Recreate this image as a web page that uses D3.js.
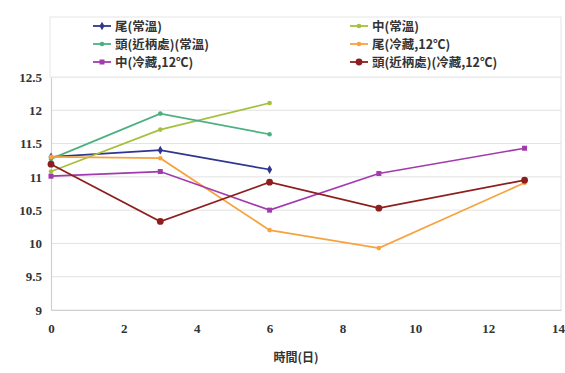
<!DOCTYPE html>
<html>
<head>
<meta charset="utf-8">
<script src="https://cdn.jsdelivr.net/npm/d3@7"></script>
<style>
  html, body { margin: 0; padding: 0; background: #fff; }
  svg { display: block; }
  .tick text { font-family: 'Liberation Serif', 'DejaVu Serif', serif !important; }
</style>
</head>
<body>
<script>
// Storage days on the x axis
const daysRoom = [0, 3, 6];
const daysCold = [0, 3, 6, 9, 13];

// Series names (legend order)
const seriesNames = [
  "尾(常溫)", "中(常溫)",
  "頭(近柄處)(常溫)", "尾(冷藏,12℃)",
  "中(冷藏,12℃)", "頭(近柄處)(冷藏,12℃)"
];

// Measured values per series
const tailRoom = [11.30, 11.40, 11.11];
const midRoom = [11.08, 11.71, 12.11];
const headRoom = [11.27, 11.95, 11.64];
const tailCold = [11.30, 11.28, 10.20, 9.93, 10.91];
const midCold = [11.01, 11.08, 10.50, 11.05, 11.43];
const headCold = [11.19, 10.33, 10.92, 10.53, 10.95];

// Axis ticks
const xTicks = [0, 2, 4, 6, 8, 10, 12, 14];
const yTicks = [9, 9.5, 10, 10.5, 11, 11.5, 12, 12.5];

const colors = ["#2F3590", "#A4C03C", "#4BB07F", "#F6A33F", "#A23AAE", "#8E1E1E"];

const series = [
  { name: seriesNames[0], x: daysRoom, y: tailRoom, color: colors[0], shape: "diamond" },
  { name: seriesNames[1], x: daysRoom, y: midRoom, color: colors[1], shape: "dot" },
  { name: seriesNames[2], x: daysRoom, y: headRoom, color: colors[2], shape: "dot" },
  { name: seriesNames[3], x: daysCold, y: tailCold, color: colors[3], shape: "dot" },
  { name: seriesNames[4], x: daysCold, y: midCold, color: colors[4], shape: "square" },
  { name: seriesNames[5], x: daysCold, y: headCold, color: colors[5], shape: "circle" }
];

const W = 565, H = 373;
const svg = d3.select("body").append("svg").attr("width", W).attr("height", H);

const x = d3.scaleLinear().domain([0, 14]).range([51, 561]);
const y = d3.scaleLinear().domain([9, 12.5]).range([310, 77]);

const cjk = "'Noto Sans CJK TC', 'Noto Sans CJK SC', sans-serif";

// Horizontal gridlines
svg.append("g")
  .selectAll("line")
  .data(yTicks)
  .join("line")
  .attr("x1", x(0)).attr("x2", x(14))
  .attr("y1", d => y(d)).attr("y2", d => y(d))
  .attr("stroke", "#e2e2e2").attr("stroke-width", 1);

// Plot frame, right side
svg.append("line").attr("x1", x(14)).attr("x2", x(14))
  .attr("y1", y(12.5)).attr("y2", y(9)).attr("stroke", "#e2e2e2");

// Axes
const xAxis = svg.append("g")
  .attr("transform", `translate(0,${y(9)})`)
  .call(d3.axisBottom(x).tickValues(xTicks).tickSize(0).tickPadding(14).tickFormat(d3.format("d")));
const yAxis = svg.append("g")
  .attr("transform", `translate(${x(0)},0)`)
  .call(d3.axisLeft(y).tickValues(yTicks).tickSize(0).tickPadding(9).tickFormat(d => d));

[xAxis, yAxis].forEach(g => {
  g.attr("font-family", null);
  g.select(".domain").attr("stroke", "#cfcfcf").attr("stroke-width", 1.2);
  g.selectAll("text").style("font-size", "13px")
    .attr("fill", "#333").style("font-weight", "bold");
});
// Last x label kept inside the canvas edge
xAxis.selectAll(".tick").filter(d => d === 14).select("text")
  .attr("text-anchor", "end").attr("dx", "3.5");

// Marker drawing
function marker(g, shape, color, cx, cy) {
  if (shape === "circle") {
    g.append("circle").attr("cx", cx).attr("cy", cy).attr("r", 3.4).attr("fill", color);
  } else if (shape === "square") {
    g.append("rect").attr("x", cx - 2.5).attr("y", cy - 2.5).attr("width", 5).attr("height", 5).attr("fill", color);
  } else if (shape === "diamond") {
    g.append("path").attr("d", d3.symbol(d3.symbolDiamond, 22)()).attr("transform", `translate(${cx},${cy})`).attr("fill", color);
  } else {
    g.append("circle").attr("cx", cx).attr("cy", cy).attr("r", 2.3).attr("fill", color);
  }
}

// Series lines
const line = d3.line().x(d => x(d[0])).y(d => y(d[1]));
series.forEach(s => {
  const pts = s.x.map((d, i) => [d, s.y[i]]);
  const g = svg.append("g");
  g.append("path").attr("d", line(pts)).attr("fill", "none")
    .attr("stroke", s.color).attr("stroke-width", 1.7);
  pts.forEach(p => marker(g, s.shape, s.color, x(p[0]), y(p[1])));
});

// Legend
const legend = svg.append("g");
legend.append("rect").attr("x", 50).attr("y", 17).attr("width", 511).attr("height", 60)
  .attr("fill", "#fff").attr("stroke", "#e6e6e6");
const colX = [93, 350];
const rowY = [26, 44, 62];
series.forEach((s, i) => {
  const lx = colX[i % 2], ly = rowY[Math.floor(i / 2)];
  const g = legend.append("g");
  g.append("line").attr("x1", lx).attr("x2", lx + 18).attr("y1", ly).attr("y2", ly)
    .attr("stroke", s.color).attr("stroke-width", 1.8);
  marker(g, s.shape, s.color, lx + 9, ly);
  g.append("text").attr("x", lx + 22).attr("y", ly).attr("dy", "0.36em")
    .attr("font-family", cjk).attr("font-size", 12.5).attr("font-weight", "bold")
    .attr("fill", "#333").text(s.name);
});

// X axis title
svg.append("text").attr("x", 296).attr("y", 358).attr("dy", "0.35em")
  .attr("text-anchor", "middle").attr("font-family", cjk).attr("font-size", 12)
  .attr("font-weight", "bold").attr("fill", "#333").text("時間(日)");
</script>
</body>
</html>
